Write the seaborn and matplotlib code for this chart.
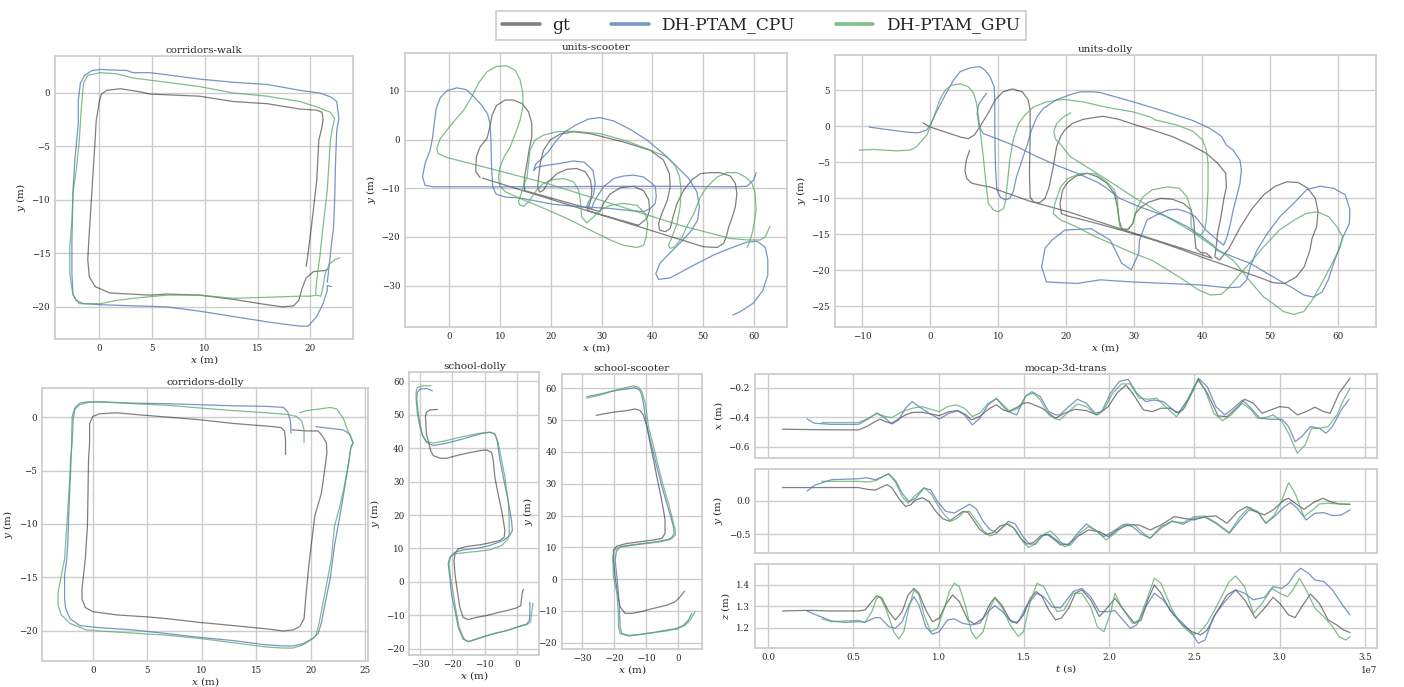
import pandas as pd
import matplotlib
matplotlib.use("Agg")
import matplotlib.pyplot as plt
from matplotlib.lines import Line2D
import seaborn as sns

# ---------------- trajectories (x, y) in metres ----------------
cw_gt = [(19.6, -16.2), (19.7, -15.6), (20.1, -12.5), (20.6, -8.2), (20.8, -4.4), (21.1, -3.2), (21.2, -2.4),
         (21.1, -1.8), (20.6, -1.6), (19.0, -1.5), (15.9, -1.0), (12.7, -0.8), (9.5, -0.3), (4.8, -0.1), (3.9, 0.1),
         (2.0, 0.4), (0.7, 0.25), (0.2, -0.1), (0.0, -0.8), (-0.3, -2.6), (-0.4, -4.4), (-0.7, -9.1), (-1.0, -13.8),
         (-1.1, -15.6), (-0.95, -17.2), (-0.4, -18.1), (1.0, -18.7), (4.8, -18.9), (6.4, -18.8), (9.5, -18.9),
         (12.7, -19.3), (15.9, -19.8), (17.4, -20.0), (18.4, -19.9), (18.9, -19.4), (19.2, -18.3), (19.6, -17.3),
         (20.3, -16.7), (21.4, -16.6), (21.6, -16.5)]
cw_cpu = [(22.0, -18.1), (21.6, -18.0), (21.6, -18.5), (21.2, -19.7), (20.6, -20.9), (19.8, -21.8), (19.0, -21.8),
          (17.4, -21.6), (15.9, -21.4), (12.7, -20.9), (9.5, -20.4), (6.4, -20.0), (3.2, -19.9), (0.1, -19.8),
          (-1.5, -19.7), (-2.2, -19.4), (-2.5, -18.8), (-2.6, -16.9), (-2.6, -13.8), (-2.5, -9.1), (-2.3, -6.0),
          (-2.0, -2.9), (-2.0, -0.8), (-1.8, 0.9), (-1.4, 1.65), (-0.7, 2.1), (0.1, 2.2), (2.6, 2.1), (3.2, 1.9),
          (4.8, 1.9), (6.4, 1.7), (9.5, 1.3), (12.7, 1.0), (15.9, 0.8), (19.0, 0.25), (20.9, 0.0), (22.0, -0.4),
          (22.5, -0.8), (22.7, -2.4), (22.5, -3.5), (22.4, -6.0), (22.3, -10.0), (22.2, -12.5), (21.9, -15.0),
          (21.7, -16.9), (21.6, -17.7)]
cw_gpu = [(22.8, -15.4), (22.3, -15.6), (21.8, -16.0), (21.4, -16.9), (21.2, -18.1), (21.0, -19.0), (20.6, -18.9),
          (20.0, -19.0), (19.0, -19.0), (15.9, -19.1), (12.7, -19.2), (9.5, -18.9), (6.4, -18.9), (3.2, -19.2),
          (1.6, -19.4), (0.1, -19.7), (-1.2, -19.7), (-1.9, -19.7), (-2.5, -18.9), (-2.8, -16.9), (-2.8, -14.4),
          (-2.6, -11.9), (-2.5, -9.4), (-2.15, -6.9), (-1.9, -4.4), (-1.7, -1.3), (-1.5, 0.9), (-1.1, 1.65),
          (0.1, 1.9), (1.6, 1.8), (3.2, 1.4), (4.8, 1.2), (6.4, 1.0), (9.5, 0.6), (12.7, 0.0), (15.9, -0.3),
          (19.0, -0.8), (20.6, -1.3), (21.9, -1.8), (22.3, -2.4), (22.1, -3.2), (21.9, -4.4), (21.6, -9.1),
          (21.2, -12.5), (20.9, -15.3), (20.6, -17.5), (20.5, -18.8)]

cd_gt = [(17.7, -3.5), (17.7, -2.1), (17.6, -1.3), (17.3, -1.0), (16.6, -0.9), (12.9, -0.6), (9.8, -0.25), (6.8, 0.0),
         (4.3, 0.2), (2.2, 0.4), (0.6, 0.3), (0.0, 0.06), (-0.3, -0.6), (-0.3, -2.4), (-0.4, -4.0), (-0.5, -10.2),
         (-0.7, -13.3), (-1.0, -16.1), (-1.0, -17.0), (-0.7, -17.8), (0.0, -18.2), (2.2, -18.5), (5.2, -18.7),
         (6.8, -18.85), (9.8, -19.2), (12.9, -19.5), (15.9, -19.8), (17.5, -20.0), (18.4, -19.9), (19.0, -19.6),
         (19.4, -18.85), (19.6, -16.4), (19.9, -13.3), (20.4, -9.2), (21.0, -7.1), (21.3, -4.9), (21.5, -3.35),
         (21.45, -2.4), (21.1, -1.8), (20.7, -1.3), (19.6, -1.3), (18.3, -1.2)]
cd_cpu = [(18.2, -1.5), (18.15, -0.4), (17.9, 0.5), (17.5, 0.9), (15.9, 1.0), (12.9, 1.05), (9.8, 1.15), (6.8, 1.25),
          (3.7, 1.3), (0.6, 1.4), (-0.6, 1.4), (-1.2, 1.3), (-1.65, 0.85), (-1.9, 0.06), (-1.95, -2.4), (-2.05, -5.2),
          (-2.2, -8.6), (-2.3, -11.7), (-2.4, -13.3), (-2.6, -14.8), (-2.6, -17.0), (-2.5, -17.9), (-2.1, -18.85),
          (-1.2, -19.5), (0.6, -19.7), (3.7, -19.9), (6.8, -20.25), (9.8, -20.6), (12.9, -20.9), (15.9, -21.3),
          (17.5, -21.4), (18.4, -21.4), (19.3, -21.2), (20.2, -20.7), (20.7, -20.25), (21.0, -19.2), (21.3, -17.6),
          (21.8, -15.1), (22.2, -12.0), (22.7, -9.2), (23.1, -6.8), (23.4, -4.9), (23.7, -2.8), (23.9, -2.4),
          (23.6, -1.6), (23.0, -1.2), (22.1, -1.1), (21.3, -1.0), (20.5, -0.9)]
cd_gpu = [(19.4, -2.4), (19.4, -1.2), (19.2, -0.4), (18.7, 0.06), (17.8, 0.25), (15.9, 0.4), (12.9, 0.6), (9.8, 0.85),
          (6.8, 1.1), (3.7, 1.25), (0.6, 1.45), (-0.3, 1.4), (-1.2, 1.15), (-1.65, 0.7), (-1.8, -0.25), (-1.9, -2.4),
          (-2.05, -4.0), (-2.2, -7.1), (-2.4, -10.2), (-2.6, -13.3), (-2.9, -14.8), (-3.2, -16.4), (-3.2, -17.6),
          (-2.9, -18.5), (-2.1, -19.3), (-0.6, -19.9), (0.6, -20.0), (3.7, -20.2), (6.8, -20.4), (9.8, -20.7),
          (12.9, -21.1), (15.9, -21.5), (17.5, -21.6), (18.4, -21.6), (19.3, -21.3), (20.2, -20.7), (20.5, -20.4),
          (20.8, -19.2), (21.1, -17.6), (21.45, -15.75), (21.9, -13.3), (22.2, -10.2), (22.7, -8.3), (23.1, -6.45),
          (23.5, -4.3), (23.7, -2.9), (23.9, -2.4), (23.4, -1.2), (23.0, -0.1), (22.4, 0.75), (21.8, 0.9),
          (20.8, 0.75), (19.6, 0.6), (19.0, 0.4)]

sd_gt = [(-24.6, 51.6), (-26.9, 51.5), (-28.0, 50.8), (-28.3, 49.3), (-28.0, 44.3), (-27.2, 41.3), (-26.7, 39.3),
         (-25.9, 37.8), (-23.8, 37.0), (-21.8, 37.0), (-18.7, 37.8), (-15.6, 38.5), (-11.5, 39.3), (-9.5, 39.5),
         (-7.9, 38.8), (-7.4, 36.3), (-6.9, 31.3), (-5.9, 26.3), (-4.8, 21.3), (-3.8, 15.4), (-4.0, 13.4),
         (-5.3, 12.4), (-8.4, 11.7), (-11.5, 11.1), (-15.6, 10.6), (-18.2, 9.9), (-19.2, 8.4), (-19.5, 6.4),
         (-19.2, 2.4), (-18.5, -2.6), (-17.7, -7.6), (-16.7, -10.6), (-15.1, -11.3), (-12.5, -10.6), (-9.5, -10.1),
         (-6.4, -9.3), (-3.3, -8.6), (-0.2, -7.8), (1.1, -7.1), (1.5, -3.6), (1.9, -2.2)]
sd_cpu = [(-26.2, 57.2), (-28.0, 57.9), (-30.0, 57.7), (-30.8, 56.7), (-31.0, 54.7), (-30.5, 50.3), (-29.8, 46.3),
          (-29.2, 43.8), (-28.0, 41.8), (-25.9, 40.8), (-21.8, 41.5), (-16.7, 42.8), (-11.5, 44.3), (-8.4, 44.8),
          (-6.9, 44.3), (-6.2, 42.3), (-5.3, 36.3), (-4.3, 31.3), (-2.8, 24.3), (-1.75, 18.3), (-1.5, 15.4),
          (-2.3, 13.9), (-4.3, 12.4), (-8.4, 10.9), (-11.5, 10.2), (-16.7, 9.6), (-19.2, 8.9), (-20.8, 7.4),
          (-21.3, 5.4), (-20.8, 1.4), (-20.3, -3.6), (-19.2, -8.6), (-18.2, -13.6), (-16.7, -17.1), (-15.1, -17.9),
          (-12.5, -17.1), (-9.5, -16.1), (-6.4, -15.3), (-3.3, -14.6), (-0.2, -13.6), (2.9, -12.6), (3.7, -11.6),
          (3.9, -9.6), (3.9, -6.1)]
sd_gpu = [(-26.7, 58.7), (-29.0, 58.7), (-30.8, 58.2), (-31.2, 56.7), (-31.2, 54.7), (-30.8, 50.3), (-30.0, 46.3),
          (-29.2, 43.8), (-28.0, 42.1), (-25.9, 41.5), (-21.8, 42.3), (-16.7, 43.5), (-11.5, 44.5), (-8.4, 44.8),
          (-6.9, 44.3), (-5.9, 41.8), (-4.8, 36.3), (-3.8, 31.3), (-2.8, 24.3), (-2.5, 19.3), (-2.5, 14.4),
          (-2.8, 12.9), (-4.8, 10.9), (-8.4, 9.6), (-11.5, 9.2), (-16.7, 8.7), (-19.2, 8.4), (-20.6, 7.4),
          (-21.0, 5.4), (-20.6, 1.4), (-19.7, -3.6), (-18.9, -8.6), (-17.9, -13.6), (-16.4, -17.1), (-15.1, -17.9),
          (-12.5, -17.1), (-9.5, -16.2), (-6.4, -15.3), (-3.3, -14.6), (-0.2, -13.6), (2.9, -12.8), (4.1, -12.1),
          (4.4, -9.6), (4.9, -6.4)]

ss_gt = [(-25.7, 51.5), (-20.3, 52.5), (-16.1, 53.0), (-13.5, 53.5), (-11.9, 53.0), (-10.9, 51.6), (-9.8, 48.0),
         (-8.8, 42.7), (-7.7, 37.5), (-6.7, 32.2), (-5.6, 27.0), (-4.6, 21.7), (-4.1, 18.6), (-4.1, 14.4),
         (-5.1, 12.8), (-7.7, 12.3), (-11.9, 11.75), (-16.1, 11.2), (-19.2, 10.4), (-20.3, 9.1), (-20.3, 6.0),
         (-19.75, 0.7), (-19.0, -4.5), (-18.2, -8.7), (-16.6, -10.8), (-14.5, -10.8), (-11.9, -10.3), (-7.7, -9.2),
         (-3.55, -8.2), (-0.9, -7.1), (0.6, -5.6), (2.0, -3.8)]
ss_cpu = [(-28.6, 57.4), (-24.45, 58.2), (-20.3, 59.2), (-16.1, 59.8), (-13.5, 60.2), (-12.1, 59.5), (-11.4, 57.9),
          (-10.9, 55.3), (-9.8, 48.0), (-8.25, 41.7), (-6.7, 35.4), (-5.1, 29.1), (-3.55, 23.8), (-2.3, 19.6),
          (-1.5, 16.5), (-1.25, 14.4), (-1.8, 13.3), (-3.0, 12.5), (-6.7, 11.75), (-10.9, 11.2), (-15.05, 10.7),
          (-18.2, 10.2), (-19.4, 8.6), (-19.75, 6.0), (-19.2, 0.7), (-18.7, -4.5), (-18.4, -9.8), (-18.2, -15.0),
          (-17.7, -17.1), (-15.6, -17.7), (-11.9, -17.4), (-7.7, -16.8), (-3.55, -16.05), (-0.4, -15.5),
          (1.7, -14.5), (3.2, -12.9), (4.3, -10.8)]
ss_gpu = [(-28.8, 56.9), (-24.45, 57.9), (-20.3, 59.2), (-16.1, 60.3), (-14.0, 60.8), (-12.4, 60.3), (-11.4, 59.0),
          (-10.3, 55.3), (-9.3, 48.0), (-7.7, 41.7), (-6.2, 35.4), (-4.6, 29.1), (-3.0, 23.8), (-1.7, 18.6),
          (-0.9, 15.4), (-0.9, 13.85), (-2.3, 12.5), (-5.6, 11.75), (-9.8, 11.2), (-14.0, 10.7), (-18.2, 10.0),
          (-20.0, 9.1), (-20.5, 7.0), (-20.3, 0.7), (-19.2, -4.5), (-18.8, -9.8), (-18.7, -15.0), (-18.2, -17.1),
          (-15.6, -17.9), (-11.9, -17.4), (-7.7, -16.8), (-3.55, -16.3), (-0.4, -15.7), (2.2, -14.5), (3.8, -12.9),
          (5.3, -10.3)]

us_gt = [(6.05, -7.8), (5.2, -6.6), (5.3, -3.55), (6.05, -1.5), (7.4, 0.2), (8.0, 2.6), (8.4, 5.0), (9.3, 7.0),
         (11.0, 8.1), (12.6, 8.1), (14.3, 7.4), (15.6, 5.7), (16.25, 3.3), (16.25, 0.55), (15.7, -2.2), (15.3, -4.9),
         (14.8, -7.7), (14.7, -9.2), (14.9, -10.5), (29.7, -14.8), (30.4, -13.1), (31.7, -11.2), (33.7, -9.9),
         (36.3, -9.6), (38.3, -10.5), (39.3, -12.3), (39.5, -14.5), (38.95, -16.2), (37.3, -17.6), (27.2, -14.6),
         (27.9, -12.4), (28.1, -10.4), (27.8, -8.3), (26.8, -6.6), (25.1, -5.95), (23.2, -6.1), (21.2, -7.0),
         (19.5, -8.7), (18.55, -10.4), (17.8, -10.8), (17.4, -9.7), (17.6, -7.7), (17.9, -4.9), (18.55, -2.2),
         (19.9, -0.1), (21.8, 1.1), (24.5, 1.6), (27.8, 1.2), (34.3, -0.5), (39.6, -2.2), (42.2, -4.2), (43.4, -7.0),
         (43.55, -9.7), (43.0, -12.4), (41.9, -15.2), (41.25, -17.2), (41.45, -18.6), (42.6, -18.9), (43.55, -18.25),
         (44.1, -15.9), (44.9, -13.1), (46.2, -10.4), (47.8, -8.3), (49.5, -7.0), (51.45, -6.8), (53.4, -6.8),
         (55.4, -7.5), (56.4, -9.0), (56.7, -11.1), (56.4, -13.8), (55.7, -16.2), (55.1, -17.9), (54.7, -19.6),
         (54.1, -21.3), (52.8, -22.15), (50.1, -22.0), (6.5, -7.9)]
us_cpu = [(60.5, -6.8), (60.0, -8.3), (58.7, -9.6), (55.4, -9.7), (45.5, -9.6), (32.4, -9.6), (19.2, -9.7),
          (6.05, -9.7), (-3.2, -9.7), (-4.8, -9.4), (-5.3, -7.7), (-4.8, -4.9), (-3.8, -2.2), (-3.3, 0.55),
          (-3.0, 3.3), (-2.6, 6.4), (-1.8, 8.6), (-0.5, 10.0), (1.45, 10.6), (3.3, 10.25), (4.7, 8.9), (6.4, 7.0),
          (7.5, 5.3), (8.0, 3.3), (8.2, -0.1), (8.3, -5.6), (8.55, -9.7), (9.2, -11.2), (11.0, -11.8), (13.95, -12.0),
          (20.5, -13.3), (25.8, -13.8), (31.7, -14.15), (35.7, -14.6), (38.3, -14.8), (39.6, -14.15), (40.6, -13.1),
          (40.8, -11.6), (40.6, -9.7), (39.6, -8.7), (38.3, -7.7), (36.3, -7.3), (34.3, -7.5), (32.4, -8.0),
          (30.4, -9.7), (29.1, -11.8), (28.4, -13.1), (28.1, -14.15), (27.1, -13.8), (27.4, -12.8), (28.4, -11.4),
          (28.75, -9.0), (28.3, -6.3), (26.6, -4.65), (24.5, -4.4), (21.8, -4.9), (19.2, -5.3), (17.2, -5.7),
          (16.6, -6.4), (17.0, -5.1), (18.2, -3.9), (19.5, -2.5), (20.9, -0.5), (22.5, 1.4), (24.8, 2.9),
          (27.4, 4.2), (29.7, 4.5), (32.4, 3.8), (35.7, 2.05), (38.95, -0.1), (42.2, -2.9), (44.9, -5.6),
          (47.2, -8.0), (48.8, -10.7), (49.3, -13.8), (48.95, -16.5), (47.8, -18.6), (45.9, -20.8), (43.55, -23.2),
          (41.6, -25.3), (40.7, -27.5), (41.25, -28.7), (43.55, -28.4), (46.2, -26.9), (49.1, -25.3), (52.1, -23.7),
          (55.4, -22.3), (58.7, -21.05), (60.7, -20.85), (62.3, -22.15), (62.8, -24.7), (62.8, -27.8), (61.8, -31.0),
          (59.9, -33.6), (57.4, -35.3), (55.9, -36.0)]
us_gpu = [(63.2, -17.8), (62.3, -20.0), (61.3, -20.6), (58.7, -20.6), (55.4, -20.3), (45.5, -17.6), (32.4, -13.3),
          (19.2, -9.0), (8.0, -5.95), (-0.5, -3.7), (-2.2, -2.9), (-2.5, -1.85), (-1.8, 0.2), (0.8, 3.6), (2.8, 6.0),
          (4.4, 8.75), (5.7, 11.5), (7.4, 13.9), (9.3, 15.0), (11.3, 15.1), (13.0, 14.2), (13.95, 12.2), (14.5, 9.4),
          (14.5, 6.7), (13.95, 4.0), (13.0, 1.2), (12.0, -1.5), (10.8, -3.55), (10.0, -5.6), (9.7, -7.7),
          (9.9, -9.4), (11.0, -10.7), (13.95, -12.1), (17.9, -13.8), (23.2, -16.2), (27.6, -18.5), (31.7, -20.6),
          (34.3, -21.7), (37.0, -22.15), (38.3, -21.7), (38.8, -20.0), (39.1, -17.2), (38.6, -15.2), (37.0, -13.5),
          (34.3, -13.1), (31.7, -13.5), (29.7, -14.5), (28.4, -15.9), (27.1, -17.1), (26.1, -15.9), (25.8, -12.4),
          (25.5, -10.4), (24.5, -8.7), (22.5, -8.0), (20.5, -8.2), (18.55, -9.0), (17.2, -10.4), (16.25, -11.8),
          (15.6, -12.8), (14.7, -13.7), (13.95, -13.5), (13.6, -12.8), (13.95, -11.8), (14.6, -9.7), (15.3, -7.7),
          (15.6, -4.9), (15.9, -2.2), (16.9, -0.1), (18.55, 0.9), (21.2, 1.6), (24.5, 1.7), (29.7, 1.2), (35.0, -0.3),
          (39.6, -2.2), (42.9, -3.55), (44.5, -5.3), (45.4, -7.7), (45.7, -10.4), (45.5, -13.8), (44.9, -17.2),
          (43.9, -20.0), (43.2, -21.7), (43.55, -22.35), (44.5, -22.0), (45.9, -20.0), (46.8, -17.9), (48.2, -15.2),
          (49.5, -11.8), (50.8, -9.7), (52.8, -7.7), (54.7, -6.8), (56.7, -6.8), (58.4, -7.7), (59.7, -9.0),
          (60.3, -11.1), (60.5, -14.5), (60.1, -17.2), (59.7, -19.3), (59.2, -21.0), (58.7, -22.2)]

ud_gt = [(-1.1, 0.5), (0.0, -0.1), (2.25, -0.8), (4.5, -1.5), (5.6, -1.7), (6.5, -1.2), (7.3, -0.05), (8.5, 1.8),
         (9.6, 3.7), (10.7, 4.8), (12.1, 5.2), (13.55, 4.8), (14.4, 3.7), (14.7, 2.3), (14.7, -1.9), (14.6, -6.5),
         (14.7, -9.8), (15.2, -10.5), (16.1, -10.6), (16.9, -10.0), (17.5, -8.4), (18.1, -5.6), (18.6, -2.8),
         (19.2, -1.4), (19.8, -0.5), (20.9, 0.4), (22.6, 1.0), (25.4, 1.4), (27.7, 1.0), (29.9, 0.3), (32.7, -0.5),
         (35.6, -1.4), (38.4, -2.6), (40.65, -3.75), (42.3, -5.1), (43.5, -6.5), (43.6, -8.4), (43.2, -10.2),
         (42.8, -12.55), (42.3, -14.9), (42.1, -16.7), (41.9, -18.1), (42.6, -18.55), (44.0, -16.9), (45.7, -13.9),
         (47.4, -11.4), (49.1, -9.5), (50.8, -8.3), (52.5, -7.7), (54.2, -7.8), (55.6, -8.6), (56.7, -10.0),
         (57.1, -11.85), (56.9, -13.9), (56.2, -15.6), (55.9, -17.2), (55.05, -19.5), (53.9, -20.9), (52.2, -21.8),
         (50.5, -21.7), (48.55, -21.0), (45.7, -20.05), (42.9, -19.1), (40.1, -18.2), (37.3, -17.2), (34.4, -16.25),
         (31.6, -15.4), (28.8, -14.6), (25.4, -13.7), (22.6, -13.0), (20.3, -12.45), (19.3, -12.1), (19.1, -10.7),
         (19.5, -8.8), (20.3, -7.7), (21.45, -6.9), (23.15, -6.5), (24.6, -7.0), (26.0, -7.9), (27.1, -9.3),
         (27.55, -11.2), (27.8, -13.0), (28.2, -14.2), (29.1, -14.3), (29.8, -13.5), (30.2, -12.1), (31.05, -11.2),
         (32.2, -10.5), (33.9, -10.0), (35.6, -10.1), (37.3, -10.7), (38.4, -11.6), (38.8, -13.0), (38.95, -15.3),
         (39.1, -16.9), (39.8, -17.5), (40.65, -17.6), (41.5, -18.3), (37.3, -17.0), (31.6, -15.3), (26.0, -13.6),
         (20.3, -11.85), (14.7, -10.4), (10.8, -9.1), (8.8, -8.4), (7.3, -8.15), (6.1, -7.9), (5.35, -7.2),
         (5.1, -6.1), (5.3, -4.7), (5.8, -3.3)]
ud_cpu = [(-9.0, -0.1), (-5.9, -0.5), (-3.5, -0.8), (-1.8, -0.9), (-0.5, -0.5), (0.0, 0.2), (0.9, 2.0), (2.2, 4.35),
          (3.4, 6.4), (4.4, 7.6), (5.8, 8.1), (7.3, 8.3), (8.05, 7.8), (8.8, 6.9), (9.4, 5.5), (9.5, 3.7),
          (9.5, -1.0), (9.6, -5.6), (9.8, -8.8), (10.3, -9.8), (11.0, -10.2), (11.7, -10.0), (12.2, -9.1),
          (12.7, -7.0), (13.5, -4.7), (14.2, -2.8), (14.9, -0.5), (15.7, 1.3), (16.65, 2.5), (18.6, 3.7), (20.6, 4.4),
          (22.05, 4.8), (24.0, 4.8), (25.0, 4.7), (29.9, 3.4), (34.8, 2.0), (38.7, 0.8), (41.2, -0.3), (42.9, -1.4),
          (43.6, -2.6), (44.6, -3.3), (45.6, -4.7), (45.8, -6.1), (45.6, -7.9), (45.1, -9.8), (44.6, -11.6),
          (44.2, -13.5), (43.7, -15.3), (43.2, -16.5), (42.3, -15.8), (40.6, -14.4), (39.0, -12.5), (37.8, -11.9),
          (36.4, -11.5), (35.0, -11.6), (33.3, -12.3), (31.9, -13.0), (30.8, -15.8), (30.7, -17.6), (29.6, -19.9),
          (28.2, -19.0), (26.5, -15.8), (23.7, -14.2), (19.8, -14.4), (17.9, -15.8), (16.9, -16.9), (16.4, -19.5),
          (17.1, -21.6), (21.6, -21.8), (25.0, -21.3), (29.9, -21.6), (34.8, -21.8), (39.7, -22.0), (43.7, -22.4),
          (45.6, -22.3), (46.6, -21.3), (47.1, -19.5), (48.1, -17.2), (49.6, -14.9), (51.5, -12.5), (53.5, -10.7),
          (55.4, -8.8), (57.4, -8.3), (59.4, -8.6), (61.1, -9.5), (61.8, -11.6), (61.7, -13.5), (60.8, -15.3),
          (60.1, -17.2), (59.4, -19.0), (58.6, -21.3), (57.7, -23.0), (56.4, -23.7), (55.0, -23.4), (53.5, -22.5),
          (51.8, -21.6), (49.6, -20.4), (47.1, -19.0), (44.6, -18.1), (42.2, -17.2), (41.7, -16.5), (39.7, -15.1),
          (37.8, -13.9), (34.8, -12.5), (30.9, -11.2), (27.9, -10.0), (25.7, -8.4), (24.5, -7.7), (21.6, -6.5),
          (18.6, -5.4), (15.7, -4.2), (12.7, -2.8), (9.8, -1.7), (7.8, -1.0), (7.2, -0.05), (6.9, 1.8), (7.1, 3.0),
          (7.6, 3.7), (8.3, 4.6)]
ud_gpu = [(-10.5, -3.3), (-8.4, -3.2), (-5.0, -3.4), (-3.0, -3.3), (-2.0, -2.8), (-1.0, -1.7), (-0.5, -1.2),
          (0.0, 0.0), (0.7, 1.8), (1.4, 3.7), (2.2, 5.05), (3.1, 5.7), (4.4, 5.9), (5.6, 5.5), (6.4, 4.6), (6.8, 3.2),
          (7.1, 1.3), (7.4, -1.0), (7.8, -4.2), (8.2, -7.9), (8.55, -10.7), (9.3, -11.6), (10.0, -11.85),
          (10.8, -11.4), (11.1, -10.2), (11.35, -7.9), (11.7, -4.7), (12.2, -1.9), (13.0, 0.4), (13.95, 1.6),
          (15.2, 2.7), (17.1, 3.4), (19.6, 3.75), (22.5, 3.4), (25.7, 2.7), (29.9, 2.0), (32.4, 1.3), (33.1, 0.9),
          (36.3, 0.2), (38.7, -0.7), (40.1, -1.9), (40.65, -3.3), (40.9, -5.1), (40.9, -8.8), (40.65, -13.0),
          (40.4, -14.4), (39.8, -15.1), (38.95, -14.9), (38.4, -13.9), (38.4, -11.6), (37.8, -9.8), (36.7, -8.6),
          (35.0, -8.4), (32.7, -8.8), (31.3, -9.8), (30.5, -11.2), (29.8, -13.5), (29.2, -14.3), (28.5, -14.4),
          (27.9, -13.9), (27.7, -12.1), (27.55, -10.2), (27.1, -8.8), (26.0, -7.7), (24.3, -6.6), (22.3, -6.5),
          (20.3, -7.2), (19.2, -8.4), (18.35, -10.7), (18.1, -12.1), (19.2, -13.0), (21.45, -13.9), (24.3, -15.3),
          (27.7, -16.7), (29.9, -17.6), (32.7, -18.6), (35.0, -19.95), (37.3, -21.3), (39.5, -22.7), (41.2, -23.4),
          (42.9, -23.3), (44.0, -22.3), (45.7, -20.4), (47.4, -18.6), (49.1, -16.7), (51.4, -14.4), (53.6, -13.0),
          (55.3, -12.1), (57.0, -11.85), (58.7, -12.55), (59.85, -13.9), (60.7, -15.3), (60.4, -16.7), (59.4, -18.6),
          (57.9, -21.3), (56.4, -23.9), (55.0, -25.7), (53.5, -26.1), (52.0, -25.7), (50.5, -24.6), (49.1, -23.7),
          (47.1, -21.5), (44.65, -18.6), (41.7, -16.7), (38.2, -14.4), (34.8, -12.55), (29.9, -9.8), (25.7, -7.2),
          (23.0, -5.6), (20.6, -4.2), (19.1, -2.4), (18.4, -1.7), (18.2, -0.7), (18.6, 0.4), (19.6, 1.3),
          (20.7, 1.9)]

# ---------------- mocap-3d-trans: (t in units of 1e7 s, value in m) ----------------
T_SCALE = 1e7
mx_gt = [(0.085, -0.482), (0.273, -0.485), (0.530, -0.487), (0.579, -0.464), (0.628, -0.430), (0.658, -0.414),
         (0.688, -0.430), (0.723, -0.442), (0.757, -0.419), (0.806, -0.385), (0.846, -0.369), (0.905, -0.367),
         (0.964, -0.381), (1.004, -0.390), (1.063, -0.363), (1.113, -0.356), (1.162, -0.385), (1.192, -0.419),
         (1.241, -0.396), (1.300, -0.340), (1.340, -0.317), (1.379, -0.351), (1.409, -0.363), (1.458, -0.335),
         (1.498, -0.306), (1.528, -0.302), (1.608, -0.340), (1.686, -0.408), (1.737, -0.374), (1.802, -0.347),
         (1.866, -0.356), (1.930, -0.385), (1.995, -0.329), (2.046, -0.238), (2.098, -0.182), (2.137, -0.238),
         (2.201, -0.351), (2.253, -0.363), (2.304, -0.340), (2.356, -0.340), (2.407, -0.374), (2.459, -0.284),
         (2.523, -0.144), (2.575, -0.238), (2.639, -0.392), (2.691, -0.397), (2.755, -0.329), (2.794, -0.279),
         (2.845, -0.306), (2.897, -0.374), (2.948, -0.351), (3.000, -0.329), (3.052, -0.336), (3.103, -0.385),
         (3.155, -0.363), (3.206, -0.333), (3.258, -0.363), (3.296, -0.374), (3.348, -0.238), (3.412, -0.137)]
mx_cpu = [(0.229, -0.412), (0.273, -0.442), (0.372, -0.449), (0.530, -0.449), (0.579, -0.419), (0.638, -0.374),
          (0.688, -0.408), (0.727, -0.447), (0.767, -0.419), (0.806, -0.340), (0.846, -0.295), (0.885, -0.329),
          (0.945, -0.374), (1.004, -0.413), (1.063, -0.374), (1.113, -0.358), (1.152, -0.385), (1.198, -0.453),
          (1.241, -0.408), (1.291, -0.317), (1.340, -0.273), (1.379, -0.329), (1.409, -0.363), (1.458, -0.385),
          (1.508, -0.262), (1.547, -0.228), (1.597, -0.262), (1.646, -0.363), (1.686, -0.385), (1.711, -0.385),
          (1.763, -0.329), (1.814, -0.279), (1.866, -0.306), (1.918, -0.374), (1.956, -0.363), (2.008, -0.238),
          (2.059, -0.159), (2.111, -0.144), (2.162, -0.238), (2.214, -0.295), (2.265, -0.284), (2.317, -0.295),
          (2.394, -0.369), (2.433, -0.351), (2.485, -0.238), (2.523, -0.137), (2.575, -0.193), (2.626, -0.329),
          (2.678, -0.385), (2.729, -0.340), (2.781, -0.284), (2.832, -0.340), (2.884, -0.408), (2.948, -0.415),
          (3.013, -0.415), (3.052, -0.464), (3.090, -0.566), (3.129, -0.532), (3.180, -0.464), (3.232, -0.476),
          (3.271, -0.510), (3.309, -0.464), (3.361, -0.351), (3.407, -0.279)]
mx_gpu = [(0.316, -0.437), (0.530, -0.437), (0.589, -0.408), (0.638, -0.374), (0.688, -0.396), (0.727, -0.403),
          (0.787, -0.363), (0.846, -0.340), (0.905, -0.329), (0.964, -0.351), (1.004, -0.363), (1.053, -0.329),
          (1.103, -0.317), (1.152, -0.340), (1.198, -0.396), (1.241, -0.374), (1.291, -0.306), (1.340, -0.276),
          (1.379, -0.317), (1.419, -0.363), (1.468, -0.340), (1.518, -0.250), (1.557, -0.239), (1.597, -0.284),
          (1.646, -0.385), (1.686, -0.412), (1.711, -0.419), (1.763, -0.363), (1.814, -0.311), (1.866, -0.329),
          (1.923, -0.385), (1.969, -0.351), (2.021, -0.238), (2.072, -0.175), (2.124, -0.175), (2.175, -0.272),
          (2.227, -0.279), (2.278, -0.272), (2.330, -0.329), (2.394, -0.397), (2.446, -0.329), (2.497, -0.193),
          (2.523, -0.153), (2.562, -0.216), (2.613, -0.374), (2.665, -0.424), (2.716, -0.385), (2.781, -0.306),
          (2.832, -0.351), (2.871, -0.408), (2.923, -0.401), (2.961, -0.385), (3.013, -0.431), (3.052, -0.510),
          (3.103, -0.645), (3.149, -0.589), (3.186, -0.476), (3.232, -0.476), (3.284, -0.464), (3.335, -0.385),
          (3.374, -0.284), (3.412, -0.205)]

my_gt = [(0.085, 0.201), (0.530, 0.201), (0.579, 0.176), (0.628, 0.162), (0.668, 0.211), (0.698, 0.245),
         (0.727, 0.196), (0.767, 0.039), (0.806, -0.083), (0.836, -0.059), (0.866, 0.015), (0.905, 0.049),
         (0.945, -0.010), (0.984, -0.157), (1.024, -0.265), (1.063, -0.304), (1.103, -0.230), (1.142, -0.157),
         (1.172, -0.172), (1.202, -0.279), (1.241, -0.426), (1.281, -0.500), (1.320, -0.475), (1.360, -0.377),
         (1.399, -0.343), (1.439, -0.402), (1.478, -0.549), (1.518, -0.647), (1.557, -0.623), (1.597, -0.525),
         (1.636, -0.500), (1.676, -0.574), (1.715, -0.660), (1.760, -0.650), (1.814, -0.535), (1.879, -0.435),
         (1.943, -0.460), (1.995, -0.535), (2.046, -0.435), (2.111, -0.360), (2.175, -0.360), (2.240, -0.435),
         (2.304, -0.360), (2.381, -0.235), (2.433, -0.260), (2.497, -0.285), (2.562, -0.235), (2.626, -0.225),
         (2.691, -0.335), (2.755, -0.160), (2.807, -0.085), (2.858, -0.160), (2.910, -0.210), (2.961, -0.135),
         (3.026, 0.015), (3.052, 0.040), (3.090, -0.035), (3.142, -0.125), (3.206, -0.010), (3.253, 0.040),
         (3.296, -0.010), (3.348, -0.045), (3.412, -0.050)]
my_cpu = [(0.229, 0.147), (0.273, 0.235), (0.372, 0.319), (0.530, 0.333), (0.579, 0.348), (0.628, 0.319),
          (0.668, 0.358), (0.708, 0.407), (0.747, 0.309), (0.787, 0.113), (0.826, -0.010), (0.866, 0.039),
          (0.915, 0.196), (0.955, 0.162), (0.994, -0.010), (1.043, -0.157), (1.093, -0.181), (1.142, -0.108),
          (1.182, -0.049), (1.221, -0.118), (1.261, -0.304), (1.300, -0.426), (1.340, -0.475), (1.379, -0.392),
          (1.409, -0.304), (1.449, -0.343), (1.498, -0.549), (1.534, -0.647), (1.567, -0.647), (1.607, -0.525),
          (1.646, -0.500), (1.686, -0.574), (1.711, -0.625), (1.763, -0.660), (1.814, -0.485), (1.866, -0.345),
          (1.918, -0.435), (1.969, -0.535), (2.021, -0.460), (2.085, -0.350), (2.137, -0.385), (2.188, -0.495),
          (2.240, -0.560), (2.304, -0.385), (2.369, -0.300), (2.433, -0.350), (2.497, -0.260), (2.562, -0.245),
          (2.626, -0.335), (2.704, -0.485), (2.768, -0.285), (2.820, -0.135), (2.871, -0.160), (2.918, -0.335),
          (2.969, -0.235), (3.026, -0.085), (3.064, -0.025), (3.103, -0.110), (3.155, -0.285), (3.206, -0.185),
          (3.258, -0.175), (3.309, -0.220), (3.361, -0.210), (3.412, -0.135)]
my_gpu = [(0.316, 0.294), (0.530, 0.294), (0.589, 0.284), (0.638, 0.309), (0.677, 0.373), (0.708, 0.407),
          (0.747, 0.284), (0.787, 0.064), (0.822, -0.034), (0.856, 0.064), (0.915, 0.196), (0.955, 0.113),
          (0.994, -0.059), (1.034, -0.206), (1.073, -0.304), (1.113, -0.255), (1.152, -0.157), (1.182, -0.157),
          (1.221, -0.294), (1.261, -0.441), (1.300, -0.525), (1.340, -0.490), (1.379, -0.377), (1.409, -0.343),
          (1.449, -0.426), (1.498, -0.623), (1.528, -0.696), (1.567, -0.647), (1.617, -0.500), (1.656, -0.451),
          (1.696, -0.549), (1.737, -0.685), (1.776, -0.660), (1.827, -0.485), (1.879, -0.385), (1.930, -0.460),
          (1.982, -0.585), (2.034, -0.485), (2.098, -0.345), (2.149, -0.360), (2.201, -0.485), (2.240, -0.560),
          (2.304, -0.410), (2.369, -0.310), (2.433, -0.325), (2.497, -0.235), (2.562, -0.225), (2.626, -0.325),
          (2.704, -0.475), (2.768, -0.235), (2.820, -0.095), (2.871, -0.160), (2.918, -0.335), (2.969, -0.210),
          (3.013, 0.015), (3.052, 0.275), (3.090, 0.115), (3.142, -0.235), (3.193, -0.135), (3.232, -0.045),
          (3.284, -0.035), (3.348, -0.045), (3.412, -0.050)]

mz_gt = [(0.085, 1.278), (0.233, 1.281), (0.372, 1.278), (0.530, 1.278), (0.569, 1.283), (0.609, 1.322),
         (0.638, 1.350), (0.668, 1.338), (0.708, 1.275), (0.747, 1.236), (0.787, 1.275), (0.822, 1.353),
         (0.856, 1.384), (0.885, 1.361), (0.925, 1.283), (0.964, 1.228), (1.004, 1.244), (1.043, 1.309),
         (1.083, 1.353), (1.122, 1.322), (1.172, 1.236), (1.211, 1.217), (1.261, 1.244), (1.300, 1.309),
         (1.330, 1.342), (1.370, 1.306), (1.419, 1.236), (1.458, 1.220), (1.498, 1.259), (1.538, 1.338),
         (1.573, 1.369), (1.607, 1.345), (1.646, 1.283), (1.686, 1.236), (1.720, 1.245), (1.763, 1.291),
         (1.802, 1.361), (1.840, 1.377), (1.892, 1.330), (1.943, 1.252), (1.995, 1.298), (2.034, 1.338),
         (2.085, 1.283), (2.149, 1.220), (2.188, 1.236), (2.227, 1.330), (2.265, 1.400), (2.304, 1.361),
         (2.356, 1.283), (2.420, 1.220), (2.485, 1.181), (2.536, 1.166), (2.575, 1.189), (2.626, 1.267),
         (2.691, 1.353), (2.742, 1.377), (2.794, 1.330), (2.858, 1.244), (2.910, 1.291), (2.961, 1.342),
         (3.000, 1.314), (3.052, 1.259), (3.090, 1.247), (3.129, 1.298), (3.180, 1.358), (3.232, 1.314),
         (3.284, 1.236), (3.335, 1.212), (3.374, 1.189), (3.412, 1.177)]
mz_cpu = [(0.229, 1.278), (0.273, 1.263), (0.372, 1.231), (0.451, 1.225), (0.530, 1.228), (0.569, 1.225),
          (0.628, 1.247), (0.658, 1.247), (0.708, 1.205), (0.747, 1.197), (0.787, 1.228), (0.826, 1.306),
          (0.856, 1.345), (0.885, 1.306), (0.925, 1.205), (0.964, 1.169), (1.004, 1.181), (1.053, 1.236),
          (1.093, 1.241), (1.142, 1.220), (1.192, 1.213), (1.241, 1.220), (1.291, 1.275), (1.330, 1.303),
          (1.379, 1.272), (1.429, 1.225), (1.468, 1.228), (1.518, 1.306), (1.577, 1.361), (1.617, 1.345),
          (1.666, 1.297), (1.715, 1.292), (1.789, 1.369), (1.840, 1.384), (1.892, 1.345), (1.943, 1.275),
          (1.995, 1.275), (2.034, 1.280), (2.072, 1.244), (2.124, 1.197), (2.162, 1.213), (2.214, 1.298),
          (2.265, 1.361), (2.317, 1.330), (2.381, 1.259), (2.433, 1.220), (2.485, 1.173), (2.523, 1.127),
          (2.562, 1.142), (2.613, 1.252), (2.678, 1.322), (2.742, 1.377), (2.794, 1.361), (2.845, 1.330),
          (2.910, 1.342), (2.961, 1.392), (3.013, 1.384), (3.052, 1.408), (3.090, 1.455), (3.124, 1.478),
          (3.168, 1.455), (3.206, 1.423), (3.258, 1.416), (3.309, 1.377), (3.361, 1.314), (3.412, 1.259)]
mz_gpu = [(0.316, 1.241), (0.372, 1.228), (0.530, 1.234), (0.569, 1.225), (0.609, 1.275), (0.638, 1.338),
          (0.658, 1.345), (0.698, 1.275), (0.737, 1.181), (0.767, 1.147), (0.796, 1.181), (0.826, 1.291),
          (0.856, 1.377), (0.885, 1.353), (0.915, 1.259), (0.955, 1.181), (0.994, 1.197), (1.034, 1.291),
          (1.063, 1.369), (1.093, 1.408), (1.122, 1.392), (1.162, 1.291), (1.192, 1.181), (1.221, 1.147),
          (1.261, 1.181), (1.300, 1.291), (1.330, 1.338), (1.370, 1.298), (1.419, 1.213), (1.468, 1.158),
          (1.498, 1.181), (1.538, 1.322), (1.577, 1.408), (1.617, 1.392), (1.656, 1.330), (1.696, 1.275),
          (1.737, 1.283), (1.789, 1.361), (1.840, 1.361), (1.892, 1.298), (1.930, 1.205), (1.969, 1.181),
          (2.008, 1.267), (2.034, 1.361), (2.072, 1.298), (2.137, 1.220), (2.175, 1.236), (2.227, 1.345),
          (2.265, 1.431), (2.304, 1.408), (2.369, 1.283), (2.433, 1.205), (2.485, 1.169), (2.523, 1.173),
          (2.575, 1.220), (2.639, 1.314), (2.704, 1.416), (2.742, 1.442), (2.794, 1.392), (2.845, 1.267),
          (2.897, 1.314), (2.954, 1.384), (3.000, 1.361), (3.046, 1.345), (3.077, 1.377), (3.116, 1.431),
          (3.155, 1.377), (3.206, 1.291), (3.258, 1.252), (3.309, 1.205), (3.348, 1.158), (3.387, 1.142),
          (3.412, 1.158)]

labels = ["gt", "DH-PTAM_CPU", "DH-PTAM_GPU"]

# ---------------- style ----------------
sns.set_theme(style="whitegrid")
plt.rcParams["font.family"] = ["DejaVu Serif"]
plt.rcParams["mathtext.fontset"] = "dejavuserif"
# hidden ticks: zero length so labels sit close to the frame
plt.rcParams["xtick.major.size"] = 0
plt.rcParams["ytick.major.size"] = 0
plt.rcParams["xtick.major.pad"] = 3.5
plt.rcParams["ytick.major.pad"] = 3.5

deep = sns.color_palette("deep")
colors = ["black", deep[0], deep[2]]
alphas = [0.5, 0.75, 0.75]
LW = 0.9
TICK_FS = 6.3
LAB_FS = 7.5

fig = plt.figure(figsize=(14.04, 6.87), dpi=100)


def draw(ax, pts, i, tscale=1.0):
    df = pd.DataFrame(pts, columns=["x", "y"])
    df["x"] = df["x"] * tscale
    sns.lineplot(data=df, x="x", y="y", sort=False, estimator=None, color=colors[i],
                 alpha=alphas[i], lw=LW, ax=ax, legend=False)


def finish(ax, title, xlim, ylim, xticks, yticks, xlabel="$x$ (m)", ylabel="$y$ (m)"):
    ax.set_xlim(*xlim)
    ax.set_ylim(*ylim)
    ax.set_xticks(xticks)
    ax.set_yticks(yticks)
    if title:
        ax.set_title(title, fontsize=LAB_FS, pad=2)
    ax.set_xlabel(xlabel, fontsize=LAB_FS, labelpad=0.3)
    ax.set_ylabel(ylabel, fontsize=LAB_FS, labelpad=2.5)
    ax.tick_params(labelsize=TICK_FS)


# trajectory panels: [left, bottom, width, height] in figure fraction
panels = [
    ("corridors-walk", [0.0392, 0.5066, 0.2123, 0.4119], (cw_gt, cw_cpu, cw_gpu),
     (-4.2, 24.05), (-23.0, 3.46), range(0, 21, 5), range(-20, 1, 5)),
    ("units-scooter", [0.2885, 0.5245, 0.2721, 0.3980], (us_gt, us_cpu, us_gpu),
     (-8.75, 66.6), (-38.4, 17.7), range(0, 61, 10), range(-30, 11, 10)),
    ("units-dolly", [0.5944, 0.5245, 0.3855, 0.3959], (ud_gt, ud_cpu, ud_gpu),
     (-14.1, 65.6), (-27.8, 9.95), range(-10, 61, 10), range(-25, 6, 5)),
    ("corridors-dolly", [0.0301, 0.0380, 0.2322, 0.3970], (cd_gt, cd_cpu, cd_gpu),
     (-4.65, 25.3), (-22.8, 2.7), range(0, 26, 5), range(-20, 1, 5)),
    ("school-dolly", [0.2915, 0.0470, 0.0926, 0.4119], (sd_gt, sd_cpu, sd_gpu),
     (-33.3, 6.8), (-21.8, 62.9), range(-30, 1, 10), range(-20, 61, 10)),
    ("school-scooter", [0.4001, 0.0557, 0.0997, 0.3999], (ss_gt, ss_cpu, ss_gpu),
     (-36.5, 7.4), (-21.9, 64.5), range(-30, 1, 10), range(-20, 61, 10)),
]

for title, rect, trajs, xlim, ylim, xt, yt in panels:
    ax = fig.add_axes(rect)
    for i, pts in enumerate(trajs):
        draw(ax, pts, i)
    finish(ax, title, xlim, ylim, list(xt), list(yt))

# mocap-3d-trans: three stacked panels sharing t
mocap = [
    ([0.5376, 0.3329, 0.4434, 0.1223], (mx_gt, mx_cpu, mx_gpu), (-0.679, -0.11), [-0.6, -0.4, -0.2], "$x$ (m)"),
    ([0.5376, 0.1951, 0.4434, 0.1223], (my_gt, my_cpu, my_gpu), (-0.78, 0.48), [-0.5, 0.0], "$y$ (m)"),
    ([0.5376, 0.0572, 0.4434, 0.1218], (mz_gt, mz_cpu, mz_gpu), (1.106, 1.498), [1.2, 1.3, 1.4], "$z$ (m)"),
]
tticks = [k * 0.5e7 for k in range(8)]
for j, (rect, trajs, ylim, yt, ylab) in enumerate(mocap):
    ax = fig.add_axes(rect)
    for i, pts in enumerate(trajs):
        draw(ax, pts, i, tscale=T_SCALE)
    finish(ax, "mocap-3d-trans" if j == 0 else None, (-0.077e7, 3.572e7), ylim, tticks, yt,
           xlabel="$t$ (s)" if j == 2 else "", ylabel=ylab)
    ax.xaxis.get_offset_text().set_fontsize(TICK_FS)
    if j < 2:
        ax.tick_params(labelbottom=False)

handles = [Line2D([], [], color=colors[i], alpha=alphas[i], lw=2.6) for i in range(3)]
leg = fig.legend(handles, labels, loc="upper center", bbox_to_anchor=(0.542, 0.997), ncol=3,
                 fontsize=12.3, frameon=True, fancybox=False, edgecolor="0.8", framealpha=1,
                 handlelength=2.2, columnspacing=2.4, handletextpad=0.73, borderpad=0.35)
leg.get_frame().set_linewidth(1.2)

fig.savefig("out.png", dpi=100)
